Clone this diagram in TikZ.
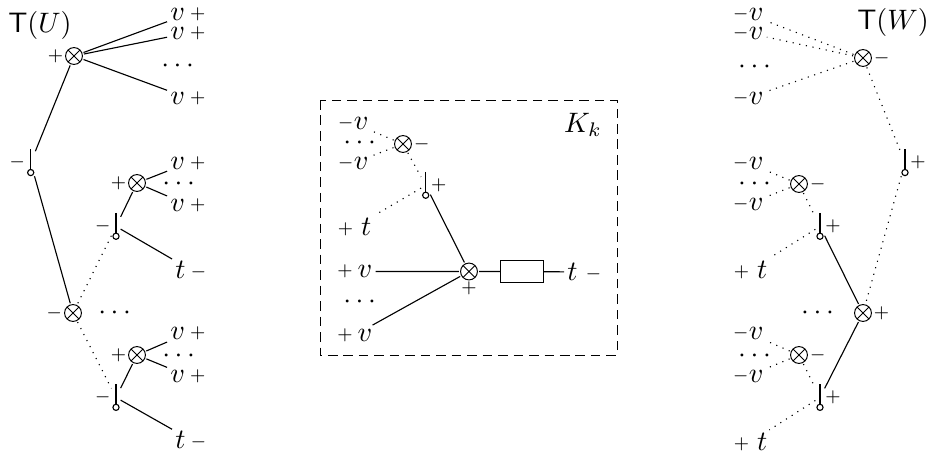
\documentclass[tikz,border=0pt]{standalone}
\usepackage{amsmath,amssymb}
\usetikzlibrary{arrows.meta}
\newcommand{\sg}[1]{\raisebox{0.8pt}{\fontsize{6}{7}\selectfont$#1$}}

\begin{document}
\begin{tikzpicture}[x=0.0125cm,y=-0.0125cm,
  mix/.style={circle,draw,line width=0.35pt,minimum size=6pt,inner sep=0pt,outer sep=0.6pt,
    path picture={\draw[line width=0.35pt] (path picture bounding box.north west)--(path picture bounding box.south east)
      (path picture bounding box.north east)--(path picture bounding box.south west);}},
  junc/.style={minimum width=2.9pt,minimum height=9.2pt,inner sep=0pt,
    append after command={\pgfextra{\draw[-{Circle[open,length=2.6pt,width=2.6pt]}] (\tikzlastnode.north)--(\tikzlastnode.south);}}},
  lbl/.style={inner sep=1pt},
  dots/.style={inner sep=0pt},
  sgn/.style={inner sep=0pt,font=\fontsize{6}{7}\selectfont}]
\useasboundingbox (0,0) rectangle (930,455);

% left tree
\node (TU) at (40,25) {$\mathsf{T}(U)$};
\node[mix,label={[sgn]left:$+$}] (a1) at (74,56) {};
\node[lbl] (u1) at (188,14) {$v$\,\sg{+}};
\node[lbl] (u2) at (188,33) {$v$\,\sg{+}};
\node[dots] (ud1) at (180,66) {$\cdots$};
\node[lbl] (u3) at (188,98) {$v$\,\sg{+}};
\node[junc,label={[sgn]left:$-$}] (j1) at (30.7,162.7) {};
\node[mix,label={[sgn]left:$-$}] (b1) at (73,313) {};
\node[dots] (bd1) at (117,313) {$\cdots$};
\node[mix,label={[sgn]left:$+$}] (s1) at (137,183) {};
\node[lbl] (w1) at (188,163) {$v$\,\sg{+}};
\node[dots] (wd1) at (181,184) {$\cdots$};
\node[lbl] (w2) at (188,205) {$v$\,\sg{+}};
\node[junc,label={[sgn]left:$-$}] (j2) at (116,226.4) {};
\node[lbl] (t1) at (191,270) {$t$\,\sg{-}};
\node[mix,label={[sgn]left:$+$}] (s2) at (137,355) {};
\node[lbl] (w3) at (188,333) {$v$\,\sg{+}};
\node[dots] (wd2) at (181,356) {$\cdots$};
\node[lbl] (w4) at (188,376) {$v$\,\sg{+}};
\node[junc,label={[sgn]left:$-$}] (j3) at (116,397.5) {};
\node[lbl] (t2) at (191,440) {$t$\,\sg{-}};

\draw (a1) -- (u1) (a1) -- (u2) (a1) -- (u3) (a1) -- (j1) (j1) -- (b1);
\draw (s1) -- (w1) (s1) -- (w2) (s1) -- (j2) (j2) -- (t1);
\draw (s2) -- (w3) (s2) -- (w4) (s2) -- (j3) (j3) -- (t2);
\draw[dotted] (j2) -- (b1) (b1) -- (j3);

% kernel box
\draw[dash pattern=on 3.4pt off 2.1pt,line width=0.35pt] (320,100) rectangle (617,355);
\node (Kk) at (583,125) {$K_k$};
\node[mix,label={[sgn]right:$-$}] (m1) at (403,144) {};
\node[lbl] (n8) at (353,123) {\sg{-}$v$};
\node[dots] (nd4) at (362,143) {$\cdots$};
\node[lbl] (n9) at (353,163) {\sg{-}$v$};
\node[junc,label={[sgn]right:$+$}] (j7) at (425.7,185.4) {};
\node[lbl] (p3) at (354.5,227) {\sg{+}\;$t$};
\node[mix,label={[sgn]below:$+$}] (m2) at (469,271.5) {};
\node[lbl] (q1) at (354.7,271.5) {\sg{+}\,$v$};
\node[dots] (qd) at (362,302) {$\cdots$};
\node[lbl] (q2) at (354.7,335) {\sg{+}\,$v$};
\node[draw,minimum width=15.3pt,minimum height=7.7pt,inner sep=0pt] (r1) at (522,271.5) {};
\node[lbl] (t3) at (584.5,272) {$t$\;\sg{-}};

\draw[dotted] (m1) -- (n8) (m1) -- (n9) (m1) -- (j7) (j7) -- (p3);
\draw (j7) -- (m2) (q1) -- (m2) (q2) -- (m2) (m2) -- (r1) (r1) -- (t3);

% right tree
\node (TW) at (893,22) {$\mathsf{T}(W)$};
\node[mix,label={[sgn]right:$-$}] (a2) at (863,58) {};
\node[lbl] (n1) at (748,14) {\sg{-}$v$};
\node[lbl] (n2) at (748,33) {\sg{-}$v$};
\node[dots] (nd1) at (757,67) {$\cdots$};
\node[lbl] (n3) at (748,98) {\sg{-}$v$};
\node[junc,label={[sgn]right:$+$}] (j4) at (905,162.7) {};
\node[mix,label={[sgn]right:$+$}] (b2) at (863,313) {};
\node[dots] (bd2) at (820,313) {$\cdots$};
\node[mix,label={[sgn]right:$-$}] (s3) at (799,184) {};
\node[lbl] (n4) at (748,163) {\sg{-}$v$};
\node[dots] (nd2) at (757,184) {$\cdots$};
\node[lbl] (n5) at (748,204) {\sg{-}$v$};
\node[junc,label={[sgn]right:$+$}] (j5) at (820,226.4) {};
\node[lbl] (p1) at (750.5,270) {\sg{+}\;$t$};
\node[mix,label={[sgn]right:$-$}] (s4) at (799,355) {};
\node[lbl] (n6) at (748,333) {\sg{-}$v$};
\node[dots] (nd3) at (757,356) {$\cdots$};
\node[lbl] (n7) at (748,376) {\sg{-}$v$};
\node[junc,label={[sgn]right:$+$}] (j6) at (820,397.5) {};
\node[lbl] (p2) at (750.5,442) {\sg{+}\;$t$};

\draw[dotted] (a2) -- (n1) (a2) -- (n2) (a2) -- (n3) (a2) -- (j4) (j4) -- (b2);
\draw[dotted] (s3) -- (n4) (s3) -- (n5) (s3) -- (j5) (j5) -- (p1);
\draw[dotted] (s4) -- (n6) (s4) -- (n7) (s4) -- (j6) (j6) -- (p2);
\draw (j5) -- (b2) (b2) -- (j6);
\end{tikzpicture}
\end{document}
